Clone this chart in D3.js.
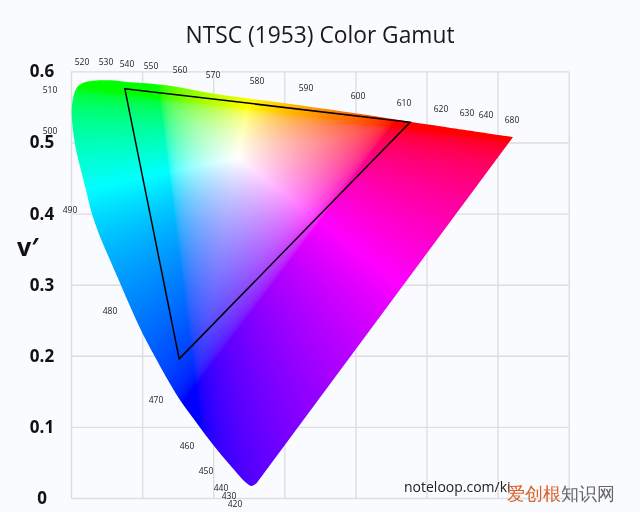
<!DOCTYPE html>
<html>
<head>
<meta charset="utf-8">
<script src="https://cdn.jsdelivr.net/npm/d3@7"></script>
<style>
  html, body { margin: 0; padding: 0; background: #fafbfe; }
  #chart { position: relative; width: 640px; height: 512px; overflow: hidden; }
  canvas, svg { position: absolute; left: 0; top: 0; }
  text { font-family: "Open Sans", "Noto Sans", sans-serif; }
</style>
</head>
<body>
<div id="chart">
  <canvas id="field" width="640" height="512"></canvas>
  <svg id="plot" width="640" height="512"></svg>
</div>
<script>
// boundary of the colour region
const locusU = [0.2612, 0.2541, 0.2471, 0.2236, 0.2001, 0.1768, 0.1533, 0.1346, 0.1181, 0.1017, 0.0854, 0.0689, 0.0549, 0.0408, 0.0291, 0.0211, 0.0150, 0.0080, 0.0032, 0.0010, 0.0024, 0.0080, 0.0173, 0.0314, 0.0549, 0.0759, 0.1392, 0.1997, 0.2982, 0.4023, 0.4768, 0.6217];
const locusV = [0.0211, 0.0169, 0.0207, 0.0464, 0.0745, 0.1055, 0.1378, 0.1688, 0.1987, 0.2293, 0.2644, 0.3024, 0.3347, 0.3675, 0.4008, 0.4332, 0.4571, 0.4852, 0.5134, 0.5411, 0.5598, 0.5767, 0.5841, 0.5869, 0.5875, 0.5855, 0.5799, 0.5689, 0.5556, 0.5408, 0.5293, 0.5077];

// NTSC primaries in u'v'
const ntscU = [0.0757, 0.4769, 0.1522];
const ntscV = [0.5757, 0.5285, 0.1957];

// wavelength labels
const waveLabels = ["520", "530", "540", "550", "560", "570", "580", "590", "600", "610", "620", "630", "640", "680", "510", "500", "490", "480", "470", "460", "450", "440", "430", "420"];
const waveU = [0.0155, 0.0492, 0.0788, 0.1125, 0.1533, 0.1997, 0.2616, 0.3305, 0.4037, 0.4684, 0.5204, 0.5570, 0.5837, 0.6203, -0.0295, -0.0295, -0.0014, 0.0549, 0.1196, 0.1632, 0.1899, 0.2110, 0.2222, 0.2307];
const waveV = [0.6132, 0.6132, 0.6104, 0.6076, 0.6020, 0.5949, 0.5865, 0.5767, 0.5654, 0.5556, 0.5471, 0.5415, 0.5387, 0.5316, 0.5738, 0.5162, 0.4051, 0.2630, 0.1378, 0.0731, 0.0380, 0.0141, 0.0028, -0.0084];

const uTicks = [0, 0.1, 0.2, 0.3, 0.4, 0.5, 0.6, 0.7];
const vTicks = [0, 0.1, 0.2, 0.3, 0.4, 0.5, 0.6];
const whitePoint = [0.235, 0.478];

const x = d3.scaleLinear().domain([0, 0.7]).range([71, 568.7]);
const y = d3.scaleLinear().domain([0, 0.6]).range([498, 71.4]);

const svg = d3.select("#plot");

// title
svg.append("text")
  .attr("x", 320).attr("y", 43)
  .attr("text-anchor", "middle")
  .attr("font-family", "Lato, sans-serif")
  .attr("font-size", 24.5)
  .attr("textLength", 269)
  .attr("lengthAdjust", "spacingAndGlyphs")
  .attr("fill", "#1a1a1a")
  .text("NTSC (1953) Color Gamut");

// grid goes under the colours, so it is drawn on its own svg layer
const gridSvg = d3.select("#chart").insert("svg", "canvas")
  .attr("width", 640).attr("height", 512);

gridSvg.append("g")
  .attr("transform", "translate(0,71.4)")
  .call(d3.axisBottom(x).tickValues(uTicks).tickSize(426.6).tickFormat(""))
  .call(g => g.select(".domain").remove())
  .selectAll("line").attr("stroke", "#dcdee2").attr("stroke-width", 1.4);

gridSvg.append("g")
  .attr("transform", "translate(568.7,0)")
  .call(d3.axisLeft(y).tickValues(vTicks).tickSize(497.7).tickFormat(""))
  .call(g => g.select(".domain").remove())
  .selectAll("line").attr("stroke", "#dcdee2").attr("stroke-width", 1.4);

// y tick labels
const yAxis = svg.append("g")
  .attr("transform", "translate(71,0)")
  .call(d3.axisLeft(y).tickValues(vTicks).tickSize(0).tickFormat(d => d === 0 ? "0" : d3.format(".1f")(d)));
yAxis.select(".domain").remove();
yAxis.selectAll("text")
  .attr("x", -29)
  .attr("text-anchor", "middle")
  .attr("font-family", "'Open Sans', sans-serif")
  .attr("font-size", 17)
  .attr("font-weight", 700)
  .attr("fill", "#111");

svg.append("text")
  .attr("x", 28).attr("y", 256)
  .attr("text-anchor", "middle")
  .attr("font-size", 25)
  .attr("font-weight", 700)
  .attr("fill", "#111")
  .text("v′");

// colour field: u'v' -> XYZ -> linear sRGB, negatives clipped, brightest channel at 1
function linearRgb(u, v) {
  const X = 9 * u / (4 * v);
  const Z = (12 - 3 * u - 20 * v) / (4 * v);
  return [
    3.2406 * X - 1.5372 - 0.4986 * Z,
    -0.9689 * X + 1.8758 + 0.0415 * Z,
    0.0557 * X - 0.2040 + 1.0570 * Z
  ];
}
const gain = linearRgb(whitePoint[0], whitePoint[1]).map(c => 1 / c);
const gamma = c => c <= 0.0031308 ? 12.92 * c : 1.055 * Math.pow(c, 1 / 2.4) - 0.055;
const lift = 0.35; // pale middle of the reference, no effect on the clipped outer part

const off = document.createElement("canvas");
off.width = 640; off.height = 512;
const offCtx = off.getContext("2d");
const img = offCtx.createImageData(640, 512);
d3.range(512).forEach(py => {
  const v = y.invert(py + 0.5);
  if (v <= 0.001) return;
  d3.range(640).forEach(px => {
    const u = x.invert(px + 0.5);
    const rgb = linearRgb(u, v).map((c, i) => Math.max(0, c * gain[i]));
    const m = d3.max(rgb) || 1;
    const low = d3.min(rgb) / m;
    const i = (py * 640 + px) * 4;
    rgb.forEach((c, k) => {
      const n = c / m;
      img.data[i + k] = 255 * gamma(n + (1 - n) * low * lift);
    });
    img.data[i + 3] = 255;
  });
});
offCtx.putImageData(img, 0, 0);

// curved along the spectrum, the closing Z gives the straight purple edge
const locusLine = d3.line()
  .x(i => x(locusU[i]))
  .y(i => y(locusV[i]))
  .curve(d3.curveCatmullRom.alpha(0.5));
const ctx = document.getElementById("field").getContext("2d");
ctx.save();
ctx.clip(new Path2D(locusLine(d3.range(locusU.length)) + "Z"));
ctx.drawImage(off, 0, 0);
ctx.restore();

// NTSC triangle
svg.append("path")
  .attr("d", d3.line().x(i => x(ntscU[i])).y(i => y(ntscV[i])).curve(d3.curveLinearClosed)(d3.range(ntscU.length)))
  .attr("fill", "none")
  .attr("stroke", "#000")
  .attr("stroke-width", 1.5);

// wavelength labels
svg.append("g").selectAll("text")
  .data(waveLabels)
  .join("text")
  .attr("x", (d, i) => x(waveU[i]))
  .attr("y", (d, i) => y(waveV[i]))
  .attr("dy", "0.35em")
  .attr("text-anchor", "middle")
  .attr("font-size", 8.5)
  .attr("fill", "#1a1a1a")
  .text(d => d);

// source credit, the rest of the address is covered in the reference
svg.append("text")
  .attr("x", 404).attr("y", 492)
  .attr("font-size", 14)
  .attr("fill", "#222")
  .text("noteloop.com/ki");

const mark = svg.append("text")
  .attr("x", 507).attr("y", 500)
  .attr("font-family", "'Noto Sans CJK SC', sans-serif")
  .attr("font-size", 17.8);
mark.append("tspan").attr("fill", "#d8622a").text("爱创根");
mark.append("tspan").attr("fill", "#666").text("知识网");
</script>
</body>
</html>
